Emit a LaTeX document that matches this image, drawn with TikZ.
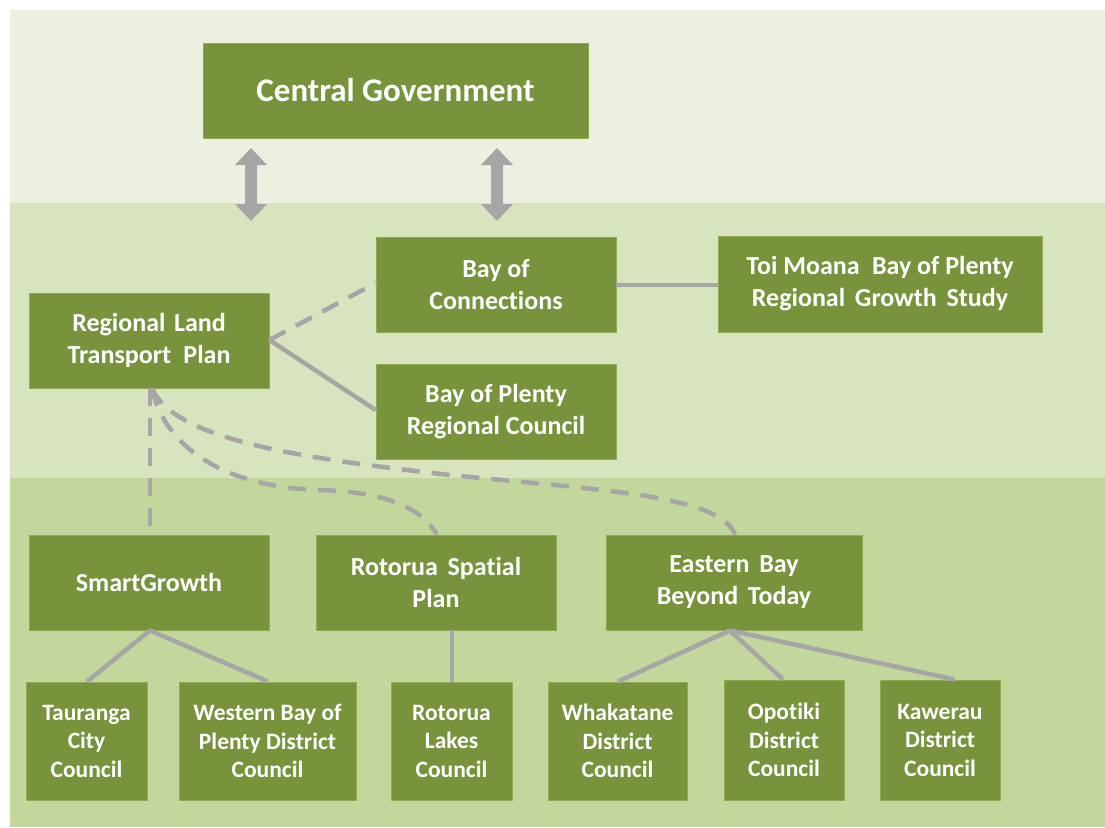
\documentclass[tikz,border=0pt]{standalone}
\usepackage{fontspec}
\setmainfont{Carlito}[Ligatures={NoCommon}]
\usetikzlibrary{arrows.meta}
\definecolor{bandA}{HTML}{EBF1DE}
\definecolor{bandB}{HTML}{D7E4BD}
\definecolor{bandC}{HTML}{C3D69B}
\definecolor{boxg}{HTML}{77933C}
\definecolor{boxedge}{HTML}{8FAA55}
\definecolor{lineg}{HTML}{A6A6A6}
\tikzset{
  orgbox/.style={fill=boxg, draw=boxedge, line width=0.8pt, text=white, font=\bfseries\fontsize{26}{32}\selectfont, align=center, inner sep=0pt},
  smallbox/.style={orgbox, font=\bfseries\fontsize{23.5}{28.5}\selectfont},
  link/.style={draw=lineg, line width=4.5pt},
  dlink/.style={draw=lineg, line width=4.5pt, dash pattern=on 18pt off 12pt},
  bigarrow/.style={fill=lineg, draw=none}
}
\newcommand{\bx}[7][orgbox]{\node[#1, minimum width=#5-#3, minimum height=#6-#4] (#2) at ({(#3+#5)/2},{(#4+#6)/2}) {#7};}
\begin{document}
\begin{tikzpicture}[x=1pt,y=-1pt]
\useasboundingbox (0,0) rectangle (1105,827);
\fill[white] (0,0) rectangle (1105,827);
\fill[bandA] (10,10) rectangle (1105,203);
\fill[bandB] (10,203) rectangle (1105,478);
\fill[bandC] (10,478) rectangle (1105,827);

\bx{cg}{203}{43}{588}{138}{\fontsize{33}{38}\selectfont Central Government}
\bx{boc}{376}{237}{616}{332}{Bay of\\Connections}
\bx{toi}{718}{236}{1042}{332}{Toi Moana\hspace{0.25em} Bay of Plenty\\Regional\hspace{0.15em} Growth\hspace{0.15em} Study}
\bx{rltp}{29}{293}{269}{388}{Regional\hspace{0.1em} Land\\Transport\hspace{0.25em} Plan}
\bx{bop}{376}{364}{616}{459}{Bay of Plenty\\Regional Council}
\bx{sg}{29}{535}{269}{630}{SmartGrowth}
\bx{rsp}{316}{535}{556}{630}{Rotorua\hspace{0.15em} Spatial\\Plan}
\bx{eb}{606}{535}{862}{630}{Eastern\hspace{0.15em} Bay\\Beyond\hspace{0.15em} Today}
\bx[smallbox]{tcc}{26}{682}{147}{800}{Tauranga\\City\\Council}
\bx[smallbox]{wbp}{179}{682}{356}{800}{Western Bay of\\Plenty District\\Council}
\bx[smallbox]{rlc}{391}{682}{512}{800}{Rotorua\\Lakes\\Council}
\bx[smallbox]{wdc}{548}{682}{687}{800}{Whakatane\\District\\Council}
\bx[smallbox]{odc}{724}{680}{844}{800}{Opotiki\\District\\Council}
\bx[smallbox]{kdc}{880}{680}{1000}{800}{Kawerau\\District\\Council}

% lines
\draw[link] (boc.east |- 0,285) -- (toi.west |- 0,285);
\draw[link] (rltp.east |- 0,340) -- (bop.west |- 0,410);
\draw[dlink] (rltp.east |- 0,340) -- (boc.west |- 0,283);
\draw[dlink] (rltp.south -| 150,0) -- (sg.north -| 150,0);
\draw[dlink] (rltp.south -| 152,0) .. controls (165,450) and (230,488) .. (320,490)
   .. controls (380,492) and (420,505) .. (rsp.north -| 437,0);
\draw[dlink] (rltp.south -| 152,0) .. controls (175,440) and (300,458) .. (450,475)
   .. controls (600,490) and (720,495) .. (eb.north -| 735,0);
\draw[link] (sg.south -| 150,0) -- (tcc.north -| 87,0);
\draw[link] (sg.south -| 150,0) -- (wbp.north -| 268,0);
\draw[link] (rsp.south -| 452,0) -- (rlc.north -| 452,0);
\draw[link] (eb.south -| 730,0) -- (wdc.north -| 618,0);
\draw[link] (eb.south -| 730,0) -- (odc.north -| 783,0);
\draw[link] (eb.south -| 730,0) -- (kdc.north -| 955,0);

% big double arrows
\foreach \ax in {251,497}{
  \fill[bigarrow] (\ax,148) -- (\ax+16,165) -- (\ax+6,165) -- (\ax+6,204) -- (\ax+16,204) -- (\ax,221) -- (\ax-16,204) -- (\ax-6,204) -- (\ax-6,165) -- (\ax-16,165) -- cycle;
}
\end{tikzpicture}
\end{document}
